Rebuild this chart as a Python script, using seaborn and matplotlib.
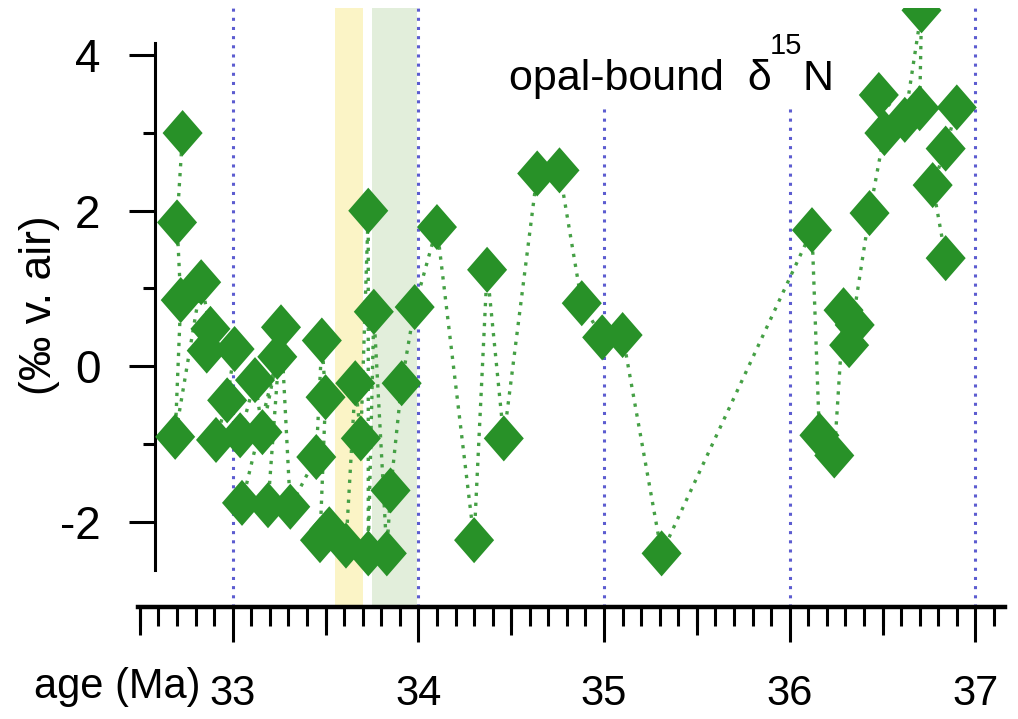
import matplotlib
matplotlib.use('Agg')
from matplotlib import pyplot as plt
from matplotlib.path import Path
from matplotlib.markers import MarkerStyle
from matplotlib.ticker import MultipleLocator, FixedLocator
import pandas as pd
import seaborn as sns

# opal-bound d15N record, in the order the points are joined
age = [32.73, 32.70, 32.72, 32.69, 32.83, 32.88, 32.86, 33.01, 32.97, 32.91,
       33.04, 33.12, 33.16, 33.24, 33.05, 33.19, 33.26, 33.31, 33.45, 33.48,
       33.50, 33.47, 33.52, 33.61, 33.66, 33.69, 33.73, 33.73, 33.76, 33.83,
       33.85, 33.91, 33.98, 34.10, 34.30, 34.37, 34.46, 34.64, 34.76, 34.88,
       34.99, 35.10, 35.31, 36.12, 36.16, 36.24, 36.29, 36.35, 36.32, 36.43,
       36.51, 36.48, 36.62, 36.71, 36.70, 36.90, 36.84, 36.77, 36.84]
d15n = [3.00, 1.85, 0.85, -0.91, 1.08, 0.48, 0.20, 0.22, -0.44, -0.95,
        -0.89, -0.18, -0.85, 0.12, -1.76, -1.79, 0.50, -1.81, -1.17, 0.33,
        -0.40, -2.24, -2.10, -2.31, -0.22, -0.93, 2.00, -2.41, 0.70, -2.41,
        -1.60, -0.22, 0.76, 1.79, -2.24, 1.24, -0.93, 2.48, 2.52, 0.81,
        0.37, 0.40, -2.41, 1.75, -0.89, -1.15, 0.72, 0.53, 0.27, 1.97,
        3.00, 3.49, 3.17, 4.58, 3.32, 3.33, 2.80, 2.33, 1.39]

grid_ages = [33, 34, 35, 36, 37]
grid_tops = [4.61, 4.61, 3.33, 3.33, 4.61]
yellow_band = (33.55, 33.70)
green_band = (33.75, 33.99)

sns.set_theme(style='white')
plt.rcParams['font.family'] = ['Liberation Sans', 'DejaVu Sans']
plt.rcParams['axes.unicode_minus'] = False

fig = plt.figure(figsize=(10.18, 7.19), dpi=100)
ax = fig.add_axes([0.1356, 0.1558, 0.8517, 0.8331])

ax.axvspan(*yellow_band, color='#fbf4c6', lw=0, zorder=0)
ax.axvspan(*green_band, color='#e2eedb', lw=0, zorder=0)
ax.vlines(grid_ages, -3.1, grid_tops, colors='#5c5cd0',
          linestyles=(0, (1, 2)), lw=2.2, zorder=1)

df = pd.DataFrame({'age': age, 'd15n': d15n})
sns.lineplot(data=df, x='age', y='d15n', sort=False, estimator=None,
             color='#45a045', lw=2.4, linestyle=(0, (1, 2)), ax=ax, zorder=2)

diamond = MarkerStyle(Path([(0, 1.15), (1, 0), (0, -1.15), (-1, 0), (0, 1.15)]))
sns.scatterplot(data=df, x='age', y='d15n', marker=diamond, s=1100,
                color='#289128', edgecolor='none', linewidth=0, ax=ax, zorder=3)

ax.set_xlim(32.49, 37.16)
ax.set_ylim(-3.1, 4.61)
ax.set_xlabel('')
ax.set_ylabel('')

for side in ['top', 'right']:
    ax.spines[side].set_visible(False)
ax.spines['left'].set_position(('data', 32.58))
ax.spines['left'].set_bounds(-2.63, 4.16)
ax.spines['left'].set_linewidth(2.2)
ax.spines['left'].set_color('black')
ax.spines['bottom'].set_linewidth(3.2)
ax.spines['bottom'].set_color('black')

ax.xaxis.set_major_locator(MultipleLocator(1))
ax.xaxis.set_minor_locator(MultipleLocator(0.1))
ax.set_yticks([-2, 0, 2, 4])
ax.yaxis.set_minor_locator(FixedLocator([-1, 1, 3]))
ax.tick_params(bottom=True, left=True, which='both', color='black',
               labelcolor='black', direction='out', width=2.2)
ax.tick_params(axis='x', which='major', length=25, pad=23, labelsize=30)
ax.tick_params(axis='x', which='minor', length=14)
ax.tick_params(axis='y', which='major', length=19, pad=20, labelsize=33)
ax.tick_params(axis='y', which='minor', length=9)

# half-Ma ticks, a bit longer than the 0.1 ticks
sec = ax.secondary_xaxis('bottom')
sec.set_xticks([32.5, 33.5, 34.5, 35.5, 36.5])
sec.set_xticklabels([])
sec.tick_params(bottom=True, length=20, width=2.2, color='black', direction='out')
sec.spines['bottom'].set_visible(False)

# panel label: opal-bound δ15N with a small raised 15
ax.text(34.49, 3.55, 'opal-bound  δ', va='baseline', fontsize=31, color='black')
ax.text(35.89, 4.02, '15', va='baseline', fontsize=21, color='black')
ax.text(36.07, 3.55, 'N', va='baseline', fontsize=31, color='black')

fig.text(200 / 1018, 1 - 698 / 719, 'age (Ma)', ha='right', va='baseline',
         fontsize=30, color='black')
fig.text(40 / 1018, 1 - 305 / 719, '(‰ v. air)', rotation=90, ha='center',
         va='center', fontsize=32, color='black')

fig.savefig('out.png', dpi=100)
